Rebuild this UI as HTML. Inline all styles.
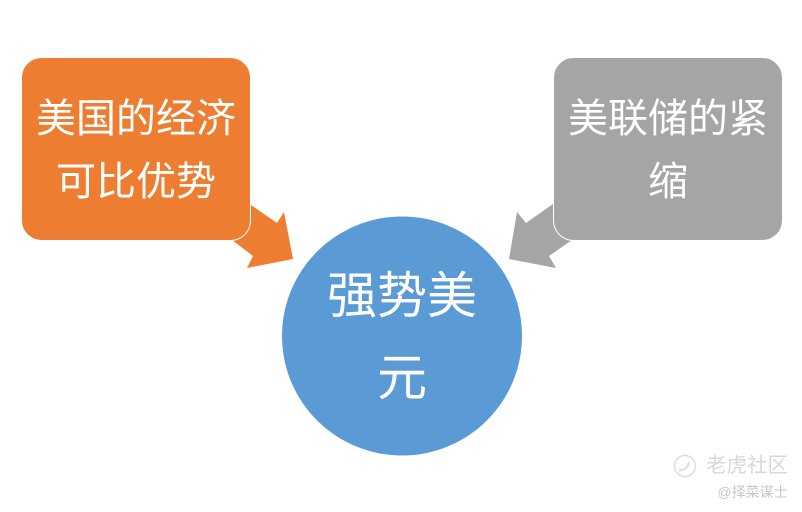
<!DOCTYPE html>
<html>
<head>
<meta charset="utf-8">
<style>
html,body{margin:0;padding:0;background:#fff;}
body{width:802px;height:512px;overflow:hidden;}
svg{display:block;}
text{font-family:"Liberation Sans","Noto Sans CJK SC",sans-serif;}
</style>
</head>
<body>
<svg width="802" height="512" viewBox="0 0 802 512" xmlns="http://www.w3.org/2000/svg">
<rect width="802" height="512" fill="#fff"/>
<polygon points="251,205 277,223 284,212 293,259 247,268 253,256 232,240" fill="#ed7d31"/>
<polygon points="553,204 526,223 517,212 509,259 556,268 549,256 572,240" fill="#a5a5a5"/>
<rect x="21.5" y="57.5" width="229" height="183" rx="20" fill="#ed7d31" stroke="#fff" stroke-width="1"/>
<rect x="553.5" y="57.5" width="229" height="183" rx="20" fill="#a5a5a5" stroke="#fff" stroke-width="1"/>
<ellipse cx="402" cy="336" rx="120" ry="119.5" fill="#5b9bd5"/>
<g fill="#fff" text-anchor="middle">
<text x="136" y="132" font-size="40">美国的经济</text>
<text x="136" y="195" font-size="40">可比优势</text>
<text x="668" y="132" font-size="40">美联储的紧</text>
<text x="668" y="195" font-size="40">缩</text>
<text x="402" y="313" font-size="50">强势美</text>
<text x="402" y="395" font-size="50">元</text>
</g>
<circle cx="685" cy="466" r="10.5" fill="none" stroke="#dcdcdc" stroke-width="1.5"/>
<path d="M679 470c4 1 9-2 10-8" fill="none" stroke="#dcdcdc" stroke-width="2"/>
<text x="747" y="472" font-size="20.5" fill="#d8d8d8" text-anchor="middle">老虎社区</text>
<text x="752.5" y="497" font-size="14" fill="#c8c8c8" text-anchor="middle">@择菜谋士</text>
</svg>
</body>
</html>
